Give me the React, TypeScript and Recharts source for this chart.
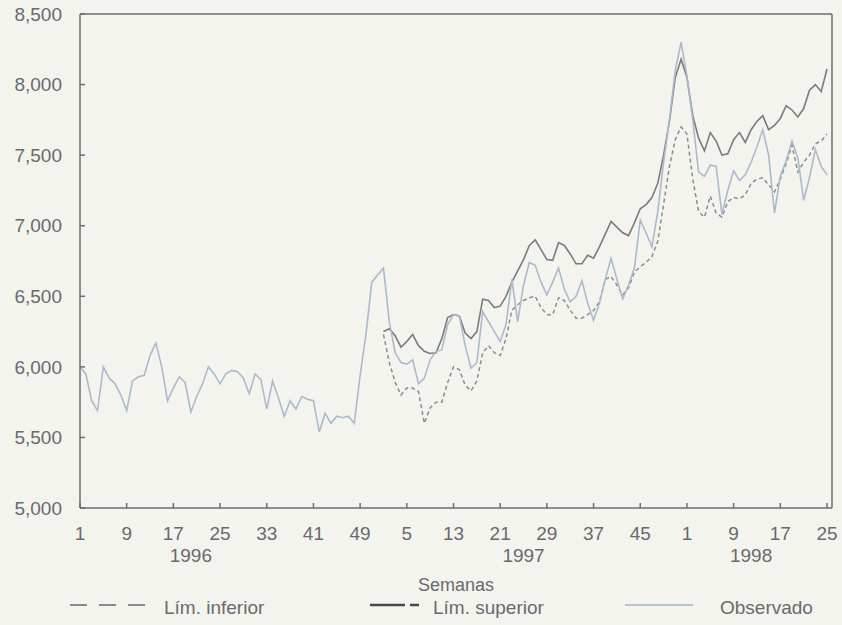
import { LineChart, Line, XAxis, YAxis } from 'recharts'

const FONT = '"Liberation Sans", Arial, sans-serif'
const TEXT = '#6a6a6a'
const AXIS = '#6e6e6e'

const years = [1996, 1997, 1998]
const weeksInYear = [52, 52, 25]

const observado1996 = [6000, 5950, 5760, 5690, 6000, 5920, 5880, 5800, 5690, 5900, 5930, 5940, 6080, 6170, 6000, 5760,
  5850, 5930, 5890, 5680, 5790, 5880, 6000, 5950, 5880, 5950, 5975, 5965, 5920, 5810, 5950, 5910, 5700, 5900, 5780, 5650,
  5760, 5700, 5790, 5770, 5760, 5540, 5670, 5600, 5650, 5640, 5650, 5600, 5940, 6230, 6600, 6650]
const observado1997 = [6700, 6320, 6100, 6030, 6020, 6050, 5880, 5920, 6050, 6110, 6120, 6300, 6370, 6360, 6150, 5990,
  6030, 6390, 6320, 6250, 6180, 6300, 6620, 6320, 6580, 6740, 6720, 6600, 6510, 6600, 6700, 6550, 6460, 6500, 6610, 6450,
  6330, 6450, 6620, 6770, 6620, 6480, 6580, 6700, 7040, 6950, 6850, 7100, 7450, 7750, 8100, 8300]
const observado1998 = [8060, 7750, 7380, 7350, 7430, 7420, 7080, 7250, 7390, 7320, 7360, 7450, 7560, 7680, 7500, 7090,
  7350, 7460, 7600, 7480, 7180, 7340, 7540, 7420, 7360]

const limSuperior1997 = [6250, 6270, 6220, 6140, 6180, 6230, 6150, 6110, 6095, 6100, 6200, 6350, 6370, 6360, 6240, 6200,
  6250, 6480, 6470, 6420, 6430, 6500, 6600, 6680, 6760, 6860, 6900, 6830, 6760, 6755, 6880, 6860, 6800, 6730, 6730, 6790,
  6770, 6850, 6940, 7030, 6990, 6950, 6930, 7020, 7120, 7150, 7200, 7300, 7500, 7740, 8050, 8180]
const limSuperior1998 = [8050, 7780, 7620, 7530, 7660, 7600, 7500, 7510, 7610, 7660, 7590, 7680, 7740, 7780, 7680, 7710,
  7760, 7850, 7820, 7770, 7830, 7960, 8000, 7950, 8110]

const limInferior1997 = [6230, 6030, 5890, 5800, 5850, 5850, 5825, 5600, 5710, 5750, 5750, 5890, 6000, 5980, 5870, 5830,
  5900, 6100, 6150, 6100, 6080, 6200, 6400, 6440, 6470, 6490, 6500, 6420, 6370, 6370, 6490, 6470, 6400, 6345, 6345, 6370,
  6400, 6460, 6620, 6640, 6580, 6510, 6560, 6670, 6710, 6740, 6780, 6890, 7150, 7420, 7610, 7700]
const limInferior1998 = [7650, 7330, 7100, 7060, 7210, 7090, 7060, 7170, 7200, 7190, 7220, 7300, 7330, 7340, 7290, 7240,
  7330, 7440, 7570, 7380, 7450, 7500, 7580, 7600, 7650]

const weekTicks = ['1996-1', '1996-9', '1996-17', '1996-25', '1996-33', '1996-41', '1996-49',
  '1997-5', '1997-13', '1997-21', '1997-29', '1997-37', '1997-45',
  '1998-1', '1998-9', '1998-17', '1998-25']
const yearTicks = ['1996-20', '1997-25', '1998-12']
const yTicks = [5000, 5500, 6000, 6500, 7000, 7500, 8000, 8500]

const observado = [...observado1996, ...observado1997, ...observado1998]
const superior = [...observado1996.map(() => null), ...limSuperior1997, ...limSuperior1998]
const inferior = [...observado1996.map(() => null), ...limInferior1997, ...limInferior1998]

const rows: any[] = []
years.forEach((yr, k) => {
  for (let w = 1; w <= weeksInYear[k]; w++) rows.push({ key: `${yr}-${w}` })
})
rows.forEach((r, i) => {
  r.observado = observado[i]
  r.superior = superior[i]
  r.inferior = inferior[i]
})

const tickStyle = { fill: TEXT, fontSize: 19, fontFamily: FONT }

export default function App() {
  return (
    <div style={{ position: 'absolute', left: 0, top: 0, width: 842, height: 625, background: '#f4f4ef' }}>
      <LineChart width={842} height={625} data={rows} margin={{ top: 13, right: 0, left: 0, bottom: 33 }}>
        <XAxis xAxisId="top" orientation="top" dataKey="key" height={1} tick={false} tickLine={false}
          padding={{ left: 0, right: 5 }} axisLine={{ stroke: AXIS, strokeWidth: 1.5 }} />
        <XAxis dataKey="key" ticks={weekTicks} interval={0} height={32} tickSize={-5} tickMargin={24}
          padding={{ left: 0, right: 5 }} tickFormatter={k => k.split('-')[1]} tick={tickStyle}
          axisLine={{ stroke: AXIS, strokeWidth: 1.5 }} tickLine={{ stroke: AXIS, strokeWidth: 1.5 }} />
        <XAxis xAxisId="year" dataKey="key" ticks={yearTicks} interval={0} height={52} tickSize={0} tickMargin={9}
          padding={{ left: 0, right: 5 }} tickFormatter={k => k.split('-')[0]} tick={tickStyle}
          axisLine={false} tickLine={false}
          label={{ value: 'Semanas', position: 'insideBottom', offset: 1, fill: TEXT, fontSize: 18, fontFamily: FONT }} />
        <YAxis domain={[5000, 8500]} ticks={yTicks} interval={0} width={80} tickSize={-5} tickMargin={23}
          tickFormatter={v => v.toLocaleString('en-US')} tick={tickStyle}
          axisLine={{ stroke: AXIS, strokeWidth: 1.5 }} tickLine={{ stroke: AXIS, strokeWidth: 1.5 }} />
        <YAxis yAxisId="right" orientation="right" domain={[5000, 8500]} width={10} tick={false} tickLine={false}
          axisLine={{ stroke: AXIS, strokeWidth: 1.5 }} />
        <Line dataKey="inferior" stroke="#8c8c8c" strokeWidth={1.5} strokeDasharray="4 3" dot={false} isAnimationActive={false} />
        <Line dataKey="superior" stroke="#7b7b7b" strokeWidth={1.6} dot={false} isAnimationActive={false} />
        <Line dataKey="observado" stroke="#abbacb" strokeWidth={1.6} dot={false} isAnimationActive={false} />
      </LineChart>
      <svg width={842} height={35} style={{ position: 'absolute', left: 0, top: 590 }}>
        <line x1={70} x2={145} y1={15} y2={15} stroke="#8a8a8a" strokeWidth={2} strokeDasharray="17 12" />
        <text x={164} y={24} fill={TEXT} fontSize={19} fontFamily={FONT}>Lím. inferior</text>
        <line x1={370} x2={405} y1={15} y2={15} stroke="#4a4a4a" strokeWidth={2.5} />
        <line x1={410} x2={419} y1={15} y2={15} stroke="#4a4a4a" strokeWidth={2.5} />
        <text x={433} y={24} fill={TEXT} fontSize={19} fontFamily={FONT}>Lím. superior</text>
        <line x1={625} x2={693} y1={15} y2={15} stroke="#b8c4d0" strokeWidth={2} />
        <text x={720} y={24} fill={TEXT} fontSize={19} fontFamily={FONT}>Observado</text>
      </svg>
    </div>
  )
}
